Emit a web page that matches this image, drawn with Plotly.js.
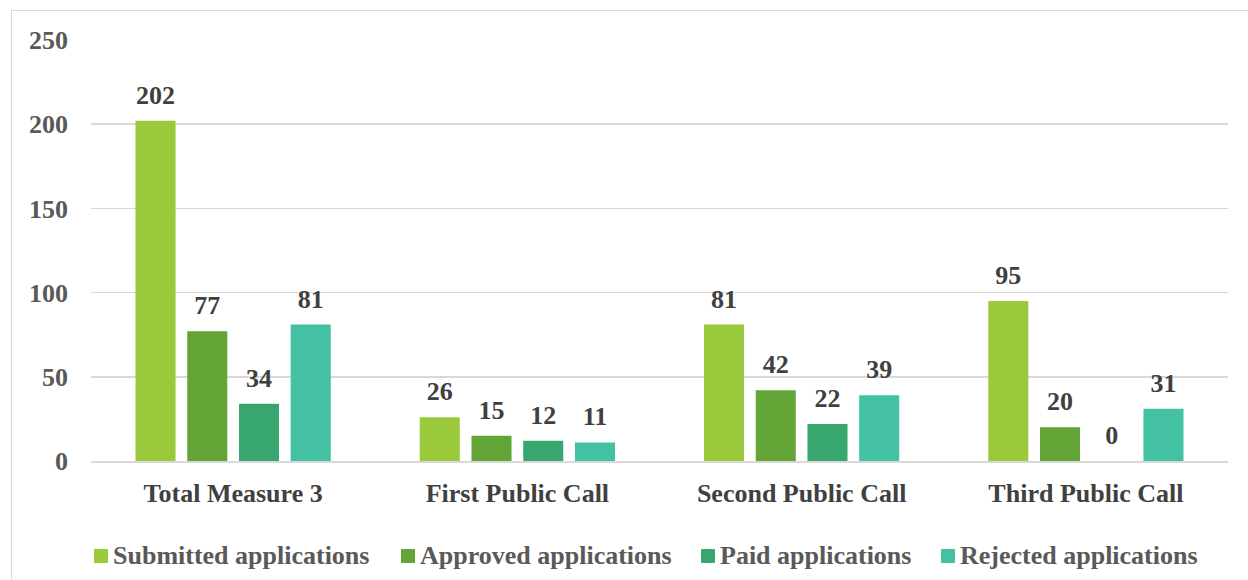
<!DOCTYPE html>
<html>
<head>
<meta charset="utf-8">
<script src="https://cdn.plot.ly/plotly-3.0.1.min.js"></script>
<style>
html,body{margin:0;padding:0;background:#fff;}
#frame{position:absolute;left:11px;top:10px;width:1240px;height:575px;border:1px solid #d9d9d9;box-sizing:border-box;}
#chart{position:absolute;left:0;top:0;width:1248px;height:580px;}
</style>
</head>
<body>
<div id="frame"></div>
<div id="chart"></div>
<script>
const categories = ["Total Measure 3", "First Public Call", "Second Public Call", "Third Public Call"];
const submitted = [202, 26, 81, 95];
const approved = [77, 15, 42, 20];
const paid = [34, 12, 22, 0];
const rejected = [81, 11, 39, 31];
const seriesNames = ["Submitted applications", "Approved applications", "Paid applications", "Rejected applications"];
const seriesColors = ["#9ACA3C", "#63A537", "#37A76F", "#44C1A3"];
const yTicks = [0, 50, 100, 150, 200, 250];

const font = "'Liberation Serif', 'Times New Roman', serif";
const seriesValues = [submitted, approved, paid, rejected];
const traces = seriesValues.map((vals, i) => ({
  type: 'bar',
  name: seriesNames[i],
  x: categories,
  y: vals,
  marker: {color: seriesColors[i]},
  text: vals.map(String),
  textposition: 'outside',
  textfont: {family: font, size: 26, color: '#404040', weight: 'bold'},
  cliponaxis: false,
  showlegend: false
}));

// custom legend (squares + labels) laid out in pixels, converted to paper coords
const L = 91, PW = 1137, PT = 40, PH = 421;
const px2x = p => (p - L) / PW;
const py2y = p => (PT + PH - p) / PH;
const legendX = [94, 401, 701, 941];
const legendY = 556;
const shapes = [], annotations = [];
seriesNames.forEach((name, i) => {
  shapes.push({
    type: 'rect', xref: 'paper', yref: 'paper',
    x0: px2x(legendX[i]), x1: px2x(legendX[i] + 14),
    y0: py2y(legendY + 7), y1: py2y(legendY - 7),
    fillcolor: seriesColors[i], line: {width: 0}
  });
  annotations.push({
    xref: 'paper', yref: 'paper',
    x: px2x(legendX[i] + 17), y: py2y(legendY - 1),
    xanchor: 'left', yanchor: 'middle',
    text: name, showarrow: false,
    font: {family: font, size: 26, color: '#595959', weight: 'bold'}
  });
});

const layout = {
  width: 1248, height: 580,
  margin: {l: L, r: 1248 - L - PW, t: PT, b: 580 - PT - PH},
  paper_bgcolor: 'rgba(0,0,0,0)',
  plot_bgcolor: 'rgba(0,0,0,0)',
  barmode: 'group',
  bargap: 0.272,
  bargroupgap: 0.226,
  font: {family: font, size: 20, color: '#595959'},
  xaxis: {
    showgrid: false,
    showline: true, linecolor: '#d9d9d9', linewidth: 2,
    ticks: '',
    tickfont: {family: font, size: 26, color: '#404040', weight: 'bold'},
    ticklabelstandoff: 8,
    automargin: false
  },
  yaxis: {
    range: [0, 250],
    tickvals: yTicks,
    ticktext: yTicks.map(String),
    showgrid: true, gridcolor: '#d9d9d9', gridwidth: 1.5,
    zeroline: false,
    showline: false,
    tickfont: {family: font, size: 26, color: '#595959', weight: 'bold'},
    ticklabelstandoff: 22,
    automargin: false
  },
  showlegend: false,
  shapes: shapes,
  annotations: annotations
};

Plotly.newPlot('chart', traces, layout, {displayModeBar: false, staticPlot: true}).then(() => {
  document.querySelectorAll('#chart .bars .point text').forEach(t => {
    const tr = t.getAttribute('transform') || '';
    t.setAttribute('transform', 'translate(0,-8) ' + tr);
  });
});
</script>
</body>
</html>
